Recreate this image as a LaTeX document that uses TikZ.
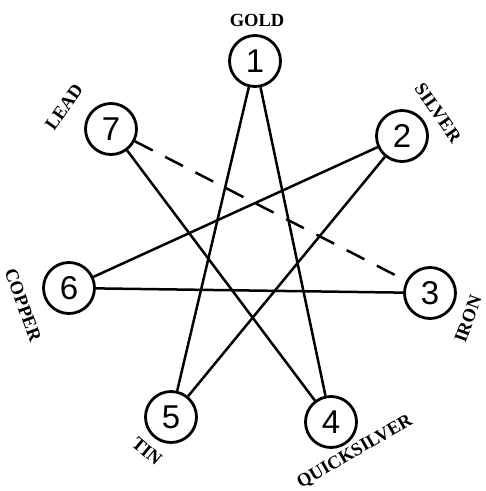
\documentclass[tikz,border=0pt]{standalone}
\usepackage{fontspec}
\setmainfont{Liberation Serif}
\newfontfamily\digitfont{Liberation Sans}

\begin{document}
\begin{tikzpicture}[
    x=1pt, y=-1pt,
    metal/.style={circle, draw, line width=2.8pt, minimum size=51pt, inner sep=0pt,
        font=\digitfont\fontsize{33}{33}\selectfont},
    metaltag/.style={font=\bfseries\fontsize{18.5}{18.5}\selectfont},
    bond/.style={line width=2.5pt}
]
    \useasboundingbox (0,0) rectangle (486,491);

    \foreach \i/\x/\y in {1/255/61, 2/402/136, 3/430/293, 4/331/422, 5/171/417, 6/69/288, 7/111/129}
        \node[metal] (M\i) at (\x,\y) {\i};

    \node[metaltag] (gold) at (257,20) {GOLD};
    \node[metaltag, rotate=-55] (silver) at (438,113) {SILVER};
    \node[metaltag, rotate=70] (iron) at (468,319) {IRON};
    \node[metaltag, rotate=30] (quicksilver) at (355,452) {QUICKSILVER};
    \node[metaltag, rotate=-40] (tin) at (147,451) {TIN};
    \node[metaltag, rotate=-70] (copper) at (23,305) {COPPER};
    \node[metaltag, rotate=55] (lead) at (64,107) {LEAD};

    \foreach \a/\b in {1/4, 1/5, 2/5, 2/6, 6/3, 7/4}
        \draw[bond] (M\a) -- (M\b);

    \draw[bond, dash pattern=on 20pt off 14pt] (M7) -- (M3);

\end{tikzpicture}
\end{document}
